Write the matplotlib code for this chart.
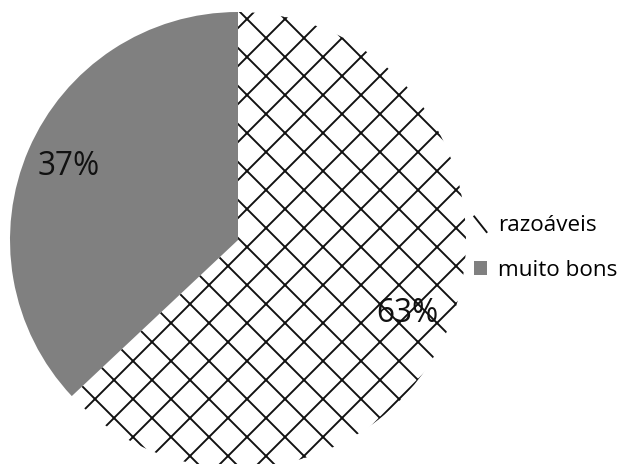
import matplotlib
matplotlib.use('Agg')
import matplotlib.pyplot as plt
from matplotlib.legend_handler import HandlerBase
from matplotlib.lines import Line2D
import numpy as np

labels = ['razoáveis', 'muito bons']
values = [63, 37]
pct_labels = ['63%', '37%']

DPI = 228
plt.rcParams['hatch.linewidth'] = 0.6
plt.rcParams['hatch.color'] = '#111111'
plt.rcParams['font.family'] = ['Open Sans', 'DejaVu Sans']


class DiagonalHandle(HandlerBase):
    # the hatched key in the original only shows one "\" stroke
    def create_artists(self, legend, orig_handle, xdescent, ydescent,
                       width, height, fontsize, trans):
        x0, y0 = -xdescent, -ydescent
        line = Line2D([x0, x0 + width], [y0 + height, y0 - 0.15 * height],
                      color='#111111', lw=0.6, transform=trans)
        return [line]


fig = plt.figure(figsize=(625 / DPI, 464 / DPI), dpi=DPI)
# pie centre ~ (238, 240) px from top-left, radius ~228 px
ax = fig.add_axes([10 / 625, -4 / 464, 456 / 625, 456 / 464])

wedges, _ = ax.pie(values, startangle=90, counterclock=False, radius=1,
                   colors=['white', '#808080'],
                   wedgeprops=dict(linewidth=0))
wedges[0].set_hatch('xx')

# percentage labels at the middle angle of each wedge
for w, txt in zip(wedges, pct_labels):
    ang = np.deg2rad((w.theta1 + w.theta2) / 2)
    ax.text(0.81 * np.cos(ang), 0.81 * np.sin(ang), txt, ha='center', va='center',
            fontsize=10, color='#111111')

ax.set_xlim(-1, 1)
ax.set_ylim(-1, 1)
ax.set_aspect('equal')
ax.axis('off')

fig.legend(wedges, labels, loc='center left', bbox_to_anchor=(454 / 625, 1 - 248 / 464),
           frameon=False, fontsize=7.1, handlelength=0.55, handleheight=0.55,
           handletextpad=0.5, labelspacing=1.05,
           handler_map={wedges[0]: DiagonalHandle()})

fig.savefig('out.png', dpi=DPI)
